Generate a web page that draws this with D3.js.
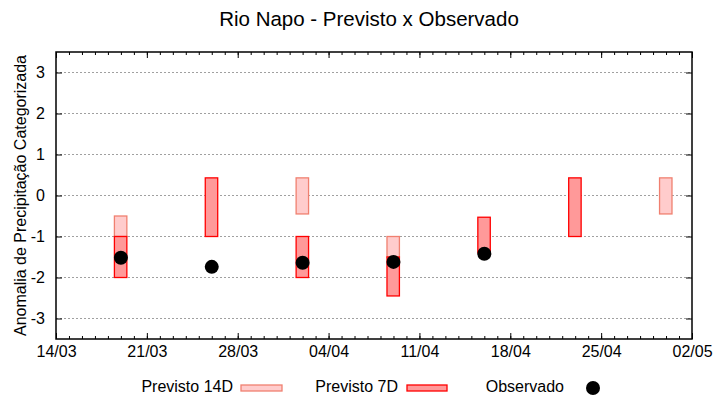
<!DOCTYPE html>
<html>
<head>
<meta charset="utf-8">
<script src="https://cdn.jsdelivr.net/npm/d3@7"></script>
<style>
  body { margin: 0; background: #fff; }
  text { font-family: "Liberation Sans", Arial, sans-serif; fill: #000; }
</style>
</head>
<body>
<div id="chart"></div>
<script>
// semanas de previsao (centro de cada caixa)
const dates = ["2021-03-19", "2021-03-26", "2021-04-02", "2021-04-09", "2021-04-16", "2021-04-23", "2021-04-30"];
// previsto 14 dias: [min, max] (null = sem previsao)
const prev14 = [[-1, -0.5], null, [-0.45, 0.43], [-1.5, -1], null, null, [-0.45, 0.43]];
// previsto 7 dias: [min, max]
const prev7 = [[-2, -1], [-1, 0.43], [-2, -1], [-2.45, -1.5], [-1.4, -0.53], [-1, 0.43], null];
// observado
const obs = [-1.52, -1.74, -1.64, -1.62, -1.42, null, null];

const xTickLabels = ["14/03", "21/03", "28/03", "04/04", "11/04", "18/04", "25/04", "02/05"];
const yTicks = [-3, -2, -1, 0, 1, 2, 3];

const width = 720, height = 400;
const margin = {top: 52, right: 28, bottom: 61, left: 56};

const parse = d3.utcParse("%Y-%m-%d");

const svg = d3.select("#chart").append("svg")
  .attr("width", width)
  .attr("height", height);

const x = d3.scaleUtc()
  .domain([parse("2021-03-14"), parse("2021-05-02")])
  .range([margin.left, width - margin.right]);

const y = d3.scaleLinear()
  .domain([-3.5, 3.5])
  .range([height - margin.bottom, margin.top]);

const x0 = margin.left, x1 = width - margin.right;
const y0 = height - margin.bottom, y1 = margin.top;

// grade
svg.append("g")
  .selectAll("line")
  .data(yTicks)
  .join("line")
    .attr("x1", x0).attr("x2", x1)
    .attr("y1", d => y(d)).attr("y2", d => y(d))
    .attr("stroke", "#a0a0a0")
    .attr("stroke-width", 1)
    .attr("stroke-dasharray", "2,2");

const weekTicks = xTickLabels.map((l, i) => d3.utcDay.offset(parse("2021-03-14"), 7 * i));
const dayTicks = d3.utcDay.range(parse("2021-03-14"), d3.utcDay.offset(parse("2021-05-02"), 1));

// eixo x (baixo) - ticks para dentro
const xAxis = svg.append("g")
  .attr("transform", `translate(0,${y0})`)
  .call(d3.axisBottom(x).tickValues(weekTicks).tickSize(-6)
    .tickFormat((d, i) => xTickLabels[i]));
xAxis.select(".domain").remove();
xAxis.selectAll("text").attr("font-size", 16).attr("y", 18).attr("dy", null);

svg.append("g")
  .attr("transform", `translate(0,${y0})`)
  .call(d3.axisBottom(x).tickValues(dayTicks).tickSize(-3).tickFormat(""))
  .select(".domain").remove();

// eixo x (topo) espelhado
const xTop = svg.append("g")
  .attr("transform", `translate(0,${y1})`)
  .call(d3.axisTop(x).tickValues(weekTicks).tickSize(-6).tickFormat(""));
xTop.select(".domain").remove();
svg.append("g")
  .attr("transform", `translate(0,${y1})`)
  .call(d3.axisTop(x).tickValues(dayTicks).tickSize(-3).tickFormat(""))
  .select(".domain").remove();

// eixo y
const yAxis = svg.append("g")
  .attr("transform", `translate(${x0},0)`)
  .call(d3.axisLeft(y).tickValues(yTicks).tickSize(-6).tickPadding(11)
    .tickFormat(d => String(d)));
yAxis.select(".domain").remove();
yAxis.selectAll("text").attr("font-size", 16);

svg.append("g")
  .attr("transform", `translate(${x1},0)`)
  .call(d3.axisRight(y).tickValues(yTicks).tickSize(-6).tickFormat(""))
  .select(".domain").remove();

svg.selectAll(".tick line").attr("stroke", "#000");

// moldura
svg.append("rect")
  .attr("x", x0).attr("y", y1)
  .attr("width", x1 - x0).attr("height", y0 - y1)
  .attr("fill", "none")
  .attr("stroke", "#000")
  .attr("stroke-width", 1.5);

const halfDay = 0.46;
const bx = d => x(d3.utcHour.offset(parse(d), -halfDay * 24));
const bw = d => x(d3.utcHour.offset(parse(d), halfDay * 24)) - bx(d);

function boxes(vals, fill, stroke) {
  const rows = dates.map((d, i) => ({d, v: vals[i]})).filter(r => r.v);
  svg.append("g")
    .selectAll("rect")
    .data(rows)
    .join("rect")
      .attr("x", r => bx(r.d))
      .attr("width", r => bw(r.d))
      .attr("y", r => y(r.v[1]))
      .attr("height", r => y(r.v[0]) - y(r.v[1]))
      .attr("fill", fill)
      .attr("stroke", stroke)
      .attr("stroke-width", 1.3);
}
boxes(prev14, "#ffcccc", "#f08070");
boxes(prev7, "#ff9999", "#ff0000");

svg.append("g")
  .selectAll("circle")
  .data(dates.map((d, i) => ({d, v: obs[i]})).filter(r => r.v !== null))
  .join("circle")
    .attr("cx", r => x(parse(r.d)))
    .attr("cy", r => y(r.v))
    .attr("r", 7)
    .attr("fill", "#000");

// titulo
svg.append("text")
  .attr("x", 369).attr("y", 26)
  .attr("text-anchor", "middle")
  .attr("font-size", 20.5)
  .text("Rio Napo - Previsto x Observado");

svg.append("text")
  .attr("transform", `translate(26,${(y0 + y1) / 2}) rotate(-90)`)
  .attr("text-anchor", "middle")
  .attr("font-size", 16)
  .text("Anomalia de Precipitação Categorizada");

// legenda
const leg = svg.append("g").attr("font-size", 16);
leg.append("text").attr("x", 233).attr("y", 392).attr("text-anchor", "end").text("Previsto 14D");
leg.append("rect").attr("x", 241).attr("y", 385).attr("width", 41).attr("height", 6)
  .attr("fill", "#ffcccc").attr("stroke", "#f08070").attr("stroke-width", 1.3);
leg.append("text").attr("x", 398).attr("y", 392).attr("text-anchor", "end").text("Previsto 7D");
leg.append("rect").attr("x", 407).attr("y", 385).attr("width", 40).attr("height", 6)
  .attr("fill", "#ff9999").attr("stroke", "#ff0000").attr("stroke-width", 1.3);
leg.append("text").attr("x", 564).attr("y", 392).attr("text-anchor", "end").text("Observado");
leg.append("circle").attr("cx", 593).attr("cy", 388).attr("r", 7).attr("fill", "#000");
</script>
</body>
</html>
